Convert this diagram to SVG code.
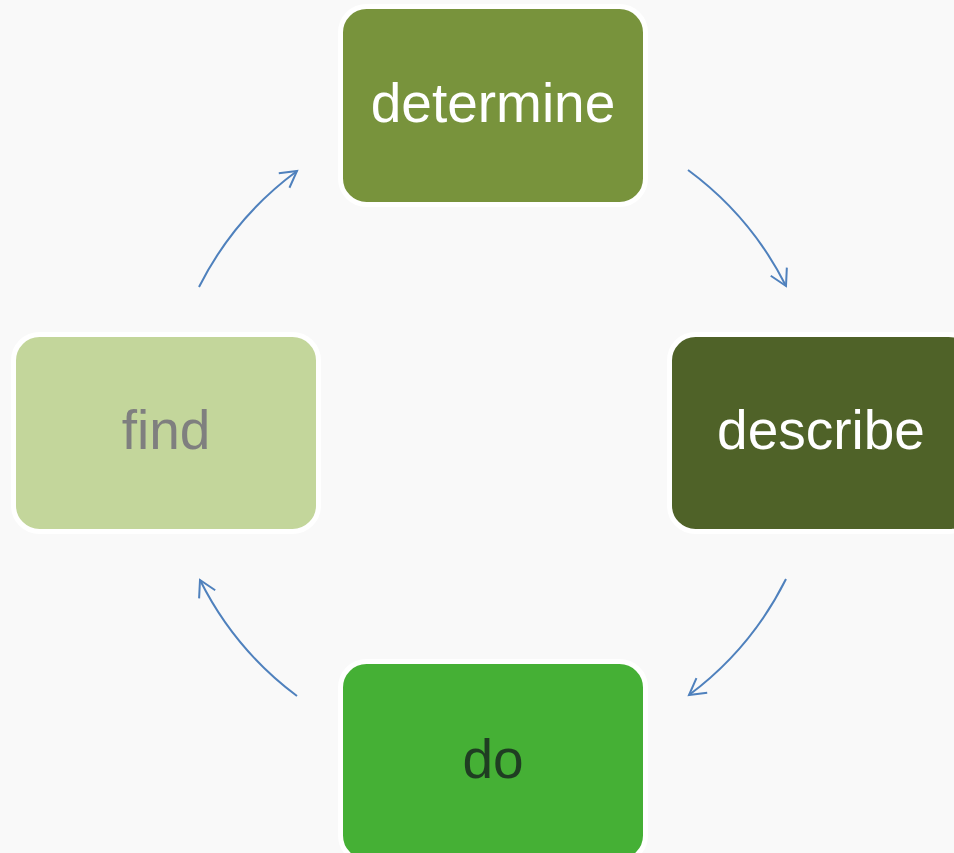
<svg xmlns="http://www.w3.org/2000/svg" width="954" height="853" viewBox="0 0 954 853">
  <defs>
    <style>
      .box { stroke: #ffffff; stroke-width: 5; }
      .lbl { font-family: "Liberation Sans", Arial, sans-serif; font-size: 55px; text-anchor: middle; }
      .conn { fill: none; stroke: #4f81bd; stroke-width: 2; marker-end: url(#arrow); }
    </style>
    <marker id="arrow" markerUnits="userSpaceOnUse" markerWidth="30" markerHeight="30" viewBox="-20 -15 30 30" refX="0" refY="0" orient="auto">
      <path d="M -16 -9 L 0 0 L -16 9" fill="none" stroke="#4f81bd" stroke-width="2"/>
    </marker>
  </defs>
  <rect width="954" height="853" fill="#f9f9f9"/>
  <g id="connectors">
    <path class="conn" d="M 688 170 A 327 327 0 0 1 786 286"/>
    <path class="conn" d="M 786 579 A 327 327 0 0 1 689 695"/>
    <path class="conn" d="M 297 696 A 327 327 0 0 1 200 580"/>
    <path class="conn" d="M 199 287 A 327 327 0 0 1 297 171"/>
  </g>
  <g id="determine">
    <rect class="box" x="340.5" y="6.5" width="305" height="198" rx="26" fill="#78933c"/>
    <text class="lbl" x="493" y="122" fill="#ffffff">determine</text>
  </g>
  <g id="describe">
    <rect class="box" x="669.5" y="334.5" width="305" height="197" rx="26" fill="#4f6228"/>
    <text class="lbl" x="821" y="449" fill="#ffffff">describe</text>
  </g>
  <g id="do">
    <rect class="box" x="340.5" y="661.5" width="305" height="200" rx="26" fill="#45b035"/>
    <text class="lbl" x="493" y="778" fill="#1f3d22">do</text>
  </g>
  <g id="find">
    <rect class="box" x="13.5" y="334.5" width="305" height="197" rx="26" fill="#c3d69b"/>
    <text class="lbl" x="166" y="449" fill="#7f7f7f">find</text>
  </g>
</svg>
